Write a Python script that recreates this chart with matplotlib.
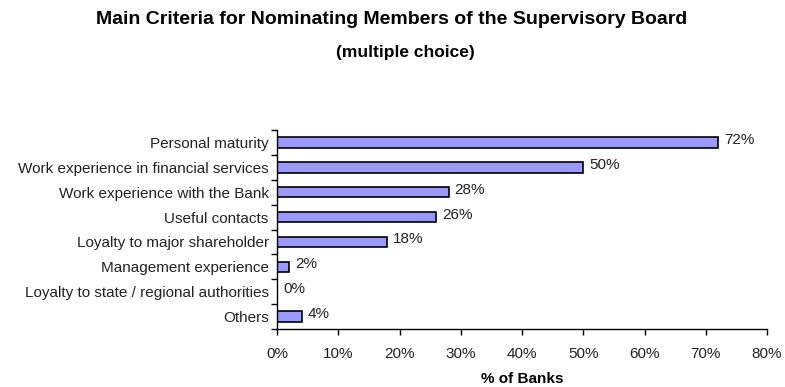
import matplotlib.pyplot as plt
import numpy as np

categories = ["Personal maturity", "Work experience in financial services",
              "Work experience with the Bank", "Useful contacts",
              "Loyalty to major shareholder", "Management experience",
              "Loyalty to state / regional authorities", "Others"]
values = [72, 50, 28, 26, 18, 2, 0, 4]
xticks = [0, 10, 20, 30, 40, 50, 60, 70, 80]

plt.rcParams['font.family'] = ['Liberation Sans', 'DejaVu Sans']

fig = plt.figure(figsize=(7.85, 3.87), dpi=100)
ax = fig.add_axes([277/785, 1 - 329/387, 490/785, 199/387])

y = np.arange(len(categories))
ax.barh(y, values, height=0.42, color='#9999ff', edgecolor='black', linewidth=1.2)
for yi, v in zip(y, values):
    ax.text(v + 1, yi - 0.1, f"{v}%", va='center', ha='left', fontsize=11, color='#222222')

ax.set_ylim(len(categories) - 0.5, -0.5)
ax.set_xlim(0, 80)
ax.set_yticks(y)
ax.set_yticklabels(categories, fontsize=11, color='#222222')
ax.set_yticks(np.arange(-0.5, len(categories)), minor=True)
ax.tick_params(axis='y', which='major', length=0, pad=6)
ax.tick_params(axis='y', which='minor', length=4, width=1)
ax.set_xticks(xticks)
ax.set_xticklabels([f"{t}%" for t in xticks], fontsize=11, color='#222222')
ax.tick_params(axis='x', length=4, width=1, pad=9)
for s in ['top', 'right']:
    ax.spines[s].set_visible(False)
ax.spines['left'].set_linewidth(1)
ax.spines['bottom'].set_linewidth(1)
ax.set_xlabel("% of Banks", fontsize=11, fontweight='bold', labelpad=8)

fig.text(392/785, 1 - 19/387, "Main Criteria for Nominating Members of the Supervisory Board",
         ha='center', va='center', fontsize=14, fontweight='bold')
fig.text(405/785, 1 - 52/387, "(multiple choice)", ha='center', va='center',
         fontsize=12.5, fontweight='bold')

fig.savefig("out.png", dpi=100)
